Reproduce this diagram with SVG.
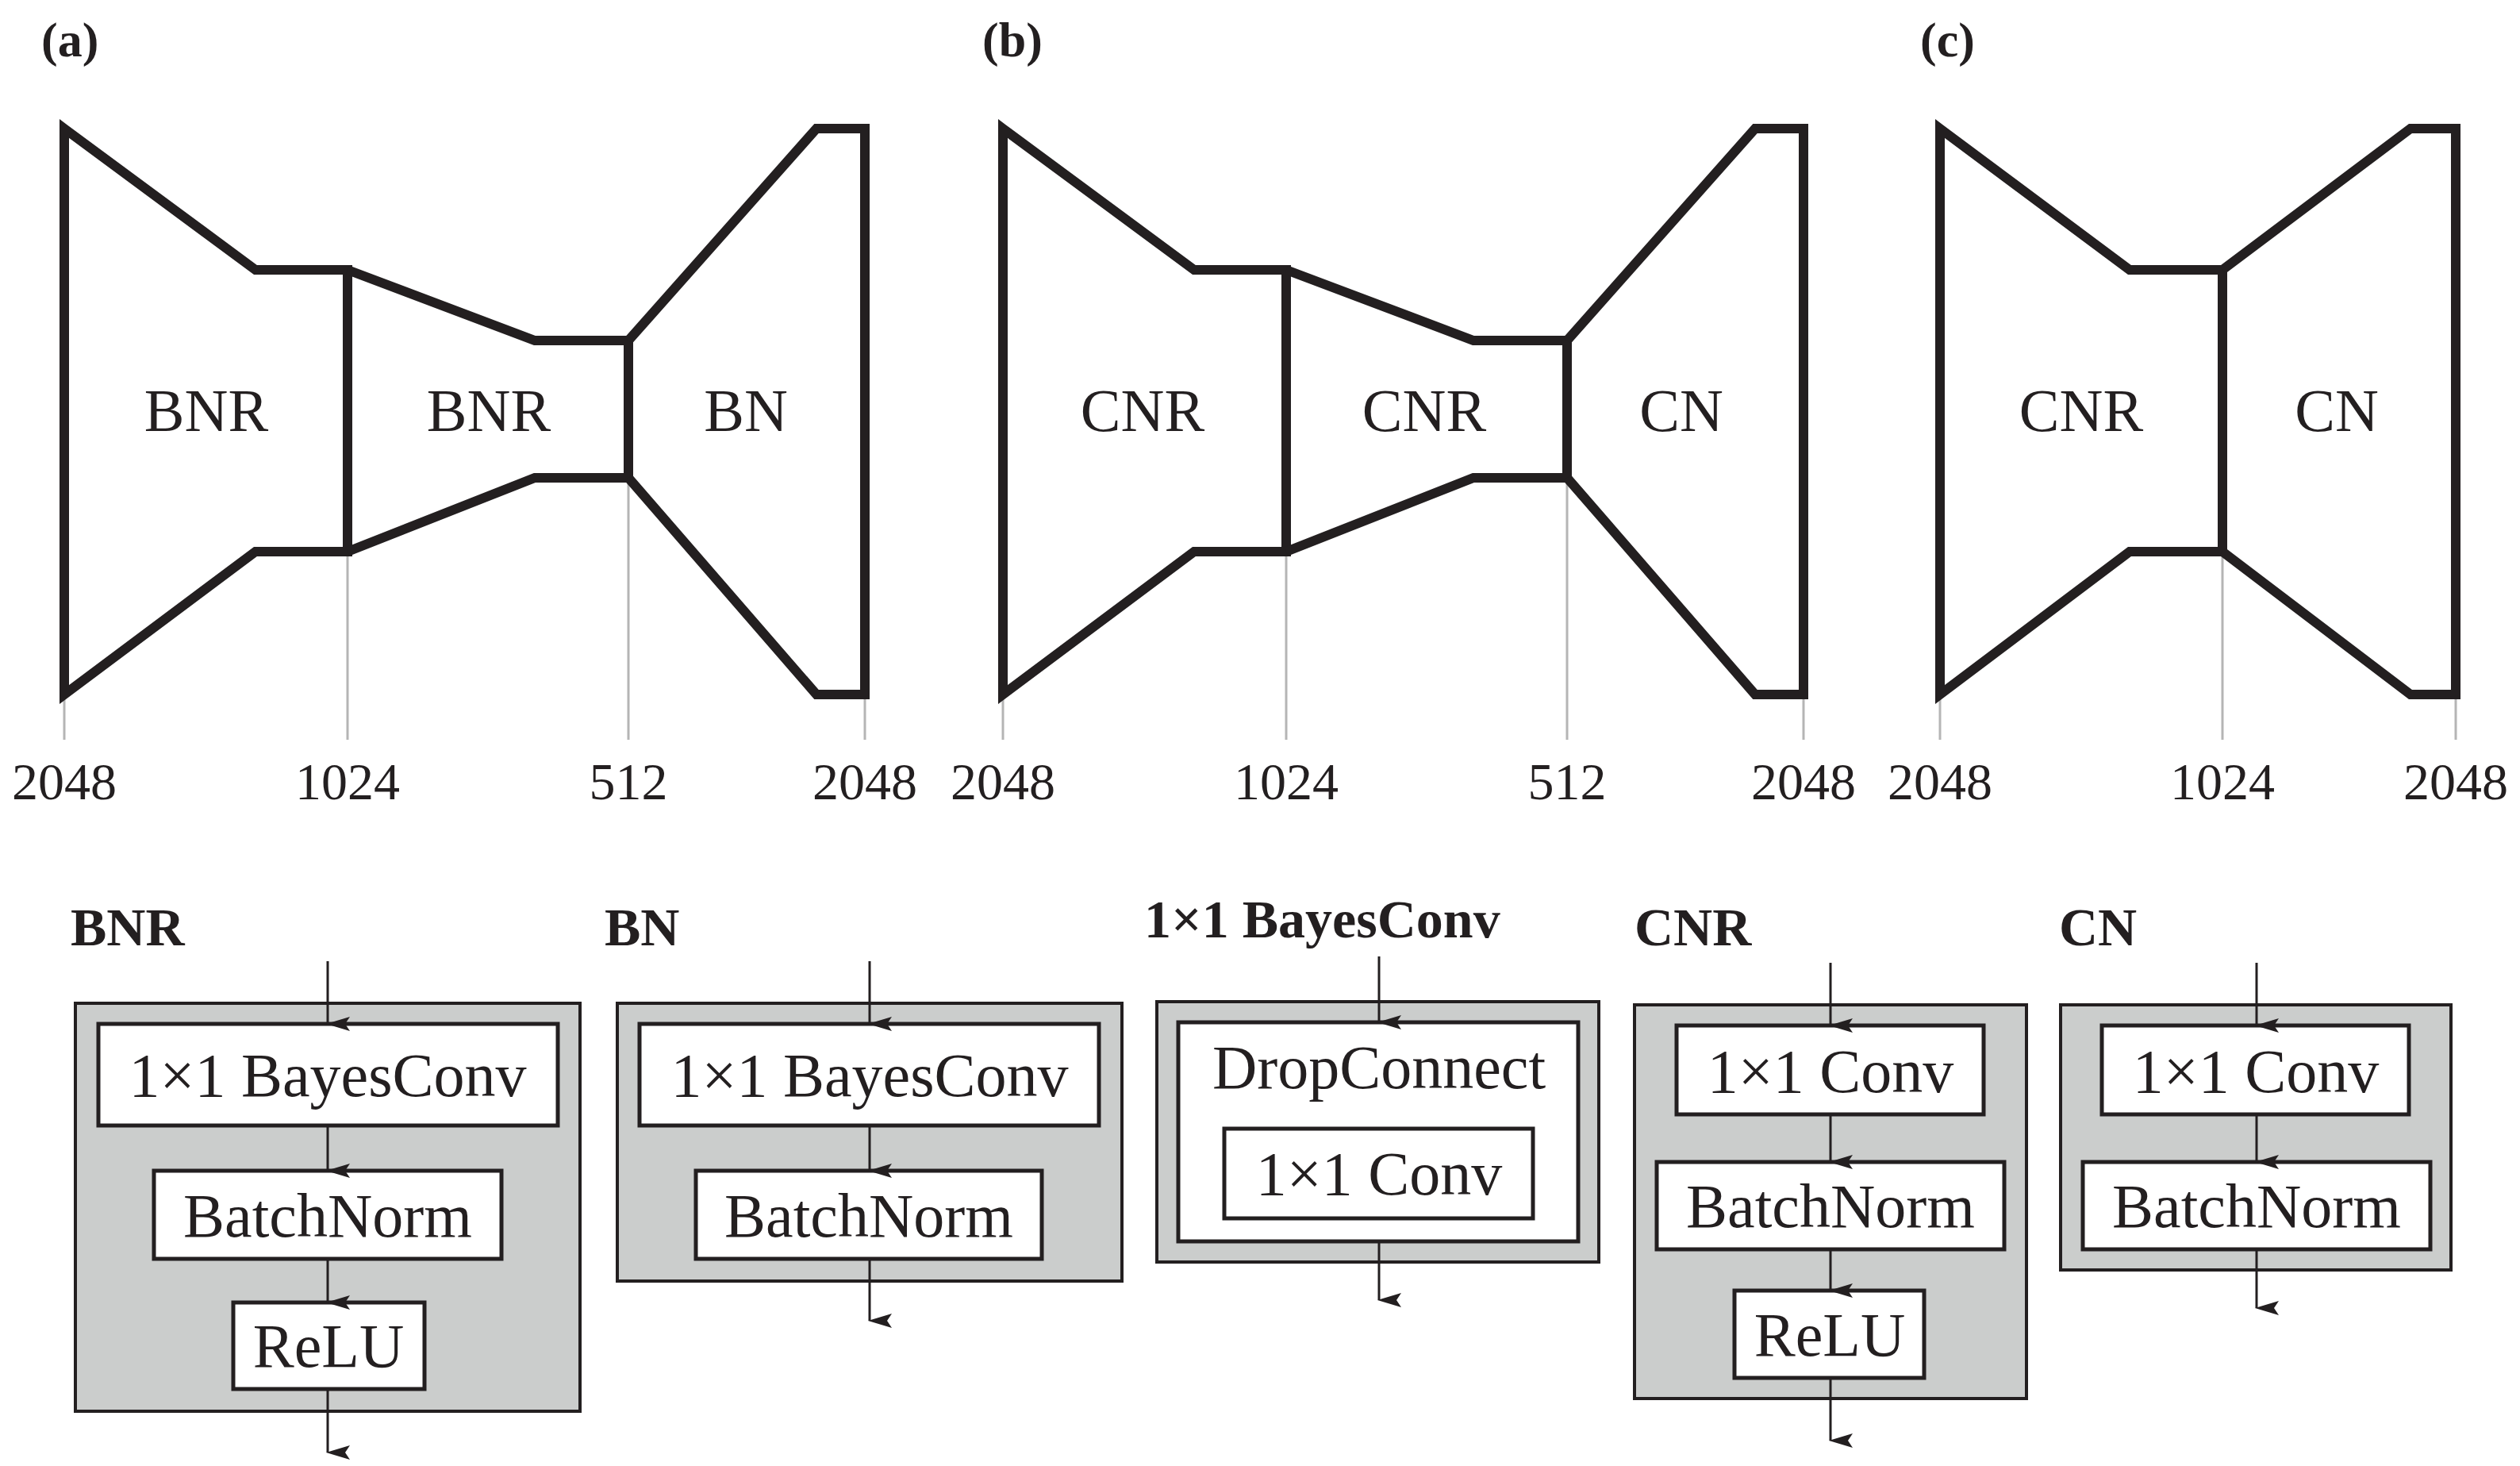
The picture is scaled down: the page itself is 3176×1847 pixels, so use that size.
<svg xmlns="http://www.w3.org/2000/svg" width="3176" height="1847" viewBox="0 0 3176 1847">
<style>
text{font-family:"Liberation Serif",serif;fill:#231f20}
.sh{fill:none;stroke:#231f20;stroke-width:12;stroke-linejoin:miter}
.tk{stroke:#b5b5b5;stroke-width:3}
.num{font-size:66px;text-anchor:middle}
.lab{font-size:76px;text-anchor:middle}
.pl{font-size:62px;font-weight:bold}
.ti{font-size:68px;font-weight:bold}
.outer{fill:#cbcdcc;stroke:#231f20;stroke-width:4}
.box{fill:#fff;stroke:#231f20;stroke-width:5}
.bt{font-size:78px;text-anchor:middle}
.ar{stroke:#231f20;stroke-width:3;fill:none;marker-end:url(#ah)}
</style>
<defs>
<marker id="ah" markerUnits="userSpaceOnUse" markerWidth="18" markerHeight="30" refX="9" refY="28" orient="auto-start-reverse" viewBox="0 0 18 30">
<path d="M0,0 L9,6 L18,0 L9,30 Z" fill="#231f20" transform="rotate(0)"/>
</marker>
</defs>
<g id="panel-a">
<text class="pl" x="52" y="71">(a)</text>
<g class="tk"><line x1="81" y1="875" x2="81" y2="932"/><line x1="438" y1="695" x2="438" y2="932"/><line x1="792" y1="602" x2="792" y2="932"/><line x1="1090" y1="875" x2="1090" y2="932"/></g>
<path class="sh" d="M81,162 L322,340 L438,340 L438,695 L322,695 L81,875 Z"/>
<path class="sh" d="M438,340 L674,429 L792,429 L792,602 L674,602 L438,695"/>
<path class="sh" d="M792,429 L1029,162 L1090,162 L1090,875 L1029,875 L792,602"/>
<text class="lab" x="260" y="543">BNR</text><text class="lab" x="616" y="543">BNR</text><text class="lab" x="940" y="543">BN</text>
<text class="num" x="81" y="1007">2048</text><text class="num" x="438" y="1007">1024</text><text class="num" x="792" y="1007">512</text><text class="num" x="1090" y="1007">2048</text>
</g>
<g id="panel-b" transform="translate(1183,0)">
<text class="pl" x="55" y="71">(b)</text>
<g class="tk"><line x1="81" y1="875" x2="81" y2="932"/><line x1="438" y1="695" x2="438" y2="932"/><line x1="792" y1="602" x2="792" y2="932"/><line x1="1090" y1="875" x2="1090" y2="932"/></g>
<path class="sh" d="M81,162 L322,340 L438,340 L438,695 L322,695 L81,875 Z"/>
<path class="sh" d="M438,340 L674,429 L792,429 L792,602 L674,602 L438,695"/>
<path class="sh" d="M792,429 L1029,162 L1090,162 L1090,875 L1029,875 L792,602"/>
<text class="lab" x="257" y="543">CNR</text><text class="lab" x="612" y="543">CNR</text><text class="lab" x="936" y="543">CN</text>
<text class="num" x="81" y="1007">2048</text><text class="num" x="438" y="1007">1024</text><text class="num" x="792" y="1007">512</text><text class="num" x="1090" y="1007">2048</text>
</g>
<g id="panel-c">
<text class="pl" x="2420" y="71">(c)</text>
<g class="tk"><line x1="2445" y1="875" x2="2445" y2="932"/><line x1="2801" y1="695" x2="2801" y2="932"/><line x1="3095" y1="875" x2="3095" y2="932"/></g>
<path class="sh" d="M2445,162 L2684,340 L2801,340 L2801,695 L2684,695 L2445,875 Z"/>
<path class="sh" d="M2801,340 L3038,162 L3095,162 L3095,875 L3038,875 L2801,695"/>
<text class="lab" x="2623" y="543">CNR</text><text class="lab" x="2945" y="543">CN</text>
<text class="num" x="2445" y="1007">2048</text><text class="num" x="2801" y="1007">1024</text><text class="num" x="3095" y="1007">2048</text>
</g>
<g id="legend-bnr">
<text class="ti" x="89" y="1191">BNR</text>
<rect class="outer" x="95" y="1264" width="636" height="514"/>
<rect class="box" x="124" y="1290" width="579" height="128"/><text class="bt" x="413" y="1381">1×1 BayesConv</text>
<rect class="box" x="194" y="1475" width="438" height="111"/><text class="bt" x="413" y="1558">BatchNorm</text>
<rect class="box" x="294" y="1641" width="241" height="109"/><text class="bt" x="414" y="1722">ReLU</text>
</g>
<g id="legend-bn">
<text class="ti" x="762" y="1191">BN</text>
<rect class="outer" x="778" y="1264" width="636" height="350"/>
<rect class="box" x="806" y="1290" width="579" height="128"/><text class="bt" x="1096" y="1381">1×1 BayesConv</text>
<rect class="box" x="877" y="1475" width="436" height="111"/><text class="bt" x="1095" y="1558">BatchNorm</text>
</g>
<g id="legend-bayesconv">
<text class="ti" x="1442" y="1181">1×1 BayesConv</text>
<rect class="outer" x="1458" y="1262" width="557" height="328"/>
<rect class="box" x="1485" y="1288" width="504" height="276"/><text class="bt" x="1738" y="1371">DropConnect</text>
<rect class="box" x="1543" y="1422" width="389" height="113"/><text class="bt" x="1738" y="1505">1×1 Conv</text>
</g>
<g id="legend-cnr">
<text class="ti" x="2060" y="1191">CNR</text>
<rect class="outer" x="2060" y="1266" width="494" height="496"/>
<rect class="box" x="2113" y="1292" width="387" height="112"/><text class="bt" x="2307" y="1376">1×1 Conv</text>
<rect class="box" x="2088" y="1464" width="438" height="110"/><text class="bt" x="2307" y="1546">BatchNorm</text>
<rect class="box" x="2186" y="1626" width="239" height="110"/><text class="bt" x="2306" y="1708">ReLU</text>
</g>
<g id="legend-cn">
<text class="ti" x="2595" y="1191">CN</text>
<rect class="outer" x="2597" y="1266" width="492" height="334"/>
<rect class="box" x="2649" y="1292" width="387" height="112"/><text class="bt" x="2843" y="1376">1×1 Conv</text>
<rect class="box" x="2625" y="1464" width="438" height="110"/><text class="bt" x="2844" y="1546">BatchNorm</text>
</g>
<g id="connectors">
<path class="ar" d="M413,1211 V1290"/><path class="ar" d="M413,1418 V1475"/><path class="ar" d="M413,1586 V1641"/><path class="ar" d="M413,1750 V1830"/>
<path class="ar" d="M1096,1211 V1290"/><path class="ar" d="M1096,1418 V1475"/><path class="ar" d="M1096,1586 V1664"/>
<path class="ar" d="M1738,1205 V1288"/><path class="ar" d="M1738,1564 V1638"/>
<path class="ar" d="M2307,1213 V1292"/><path class="ar" d="M2307,1404 V1464"/><path class="ar" d="M2307,1574 V1626"/><path class="ar" d="M2307,1736 V1815"/>
<path class="ar" d="M2844,1213 V1292"/><path class="ar" d="M2844,1404 V1464"/><path class="ar" d="M2844,1574 V1648"/>
</g>
</svg>
